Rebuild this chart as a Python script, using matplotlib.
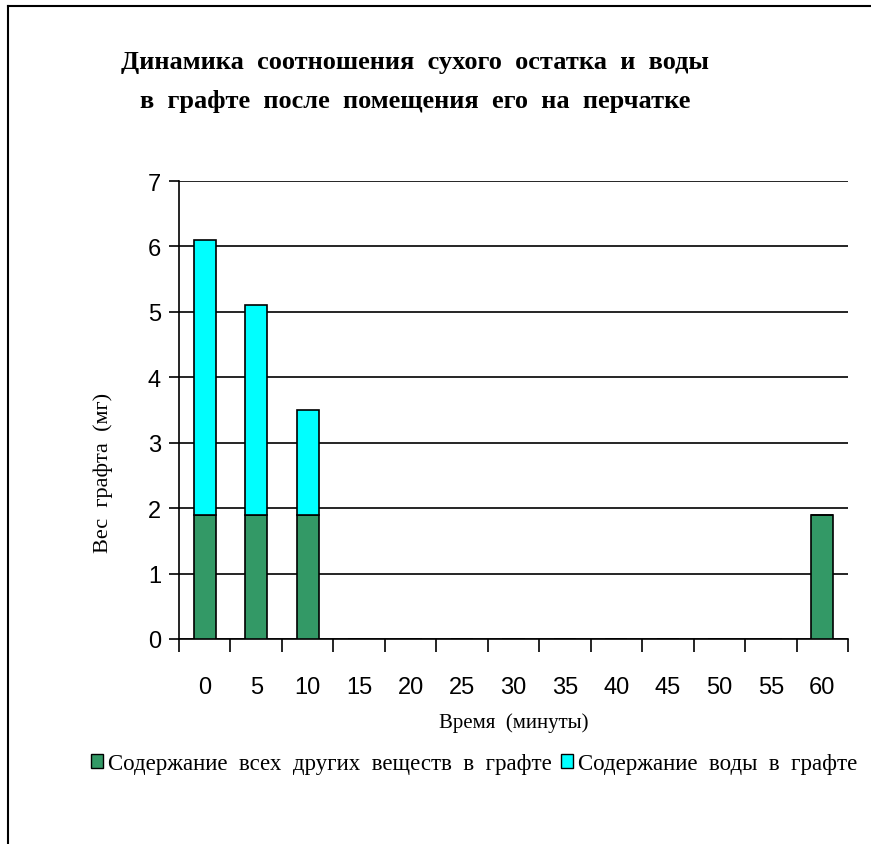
import numpy as np
import matplotlib.pyplot as plt
from matplotlib.lines import Line2D
from matplotlib.patches import Patch

# данные
minutes = ["0", "5", "10", "15", "20", "25", "30", "35", "40", "45", "50", "55", "60"]
dry = [1.9, 1.9, 1.9, 0, 0, 0, 0, 0, 0, 0, 0, 0, 1.9]
water = [4.2, 3.2, 1.6, 0, 0, 0, 0, 0, 0, 0, 0, 0, 0]
y_ticks = [0, 1, 2, 3, 4, 5, 6, 7]

title = "Динамика  соотношения  сухого  остатка  и  воды\nв  графте  после  помещения  его  на  перчатке"
label_dry = "Содержание  всех  других  веществ  в  графте"
label_water = "Содержание  воды  в  графте"

green = "#339966"
cyan = "#00ffff"
serif = "Liberation Serif"
sans = "Liberation Sans"

fig = plt.figure(figsize=(8.71, 8.45), dpi=100)
ax = fig.add_axes([179 / 871, 1 - 640 / 845, (848 - 179) / 871, (640 - 182) / 845])

x = np.arange(len(minutes))
w = 0.43
ax.bar(x, dry, width=w, color=green, edgecolor="black", linewidth=1.2, zorder=3)
ax.bar(x, water, bottom=dry, width=w, color=cyan, edgecolor="black", linewidth=1.2, zorder=3)

ax.set_xlim(-0.5, len(minutes) - 0.5)
ax.set_ylim(0, 7)
ax.set_yticks(y_ticks)
ax.set_yticklabels([str(v) for v in y_ticks], fontsize=17, family=sans)
ax.tick_params(axis="y", direction="out", length=7, width=1.2, pad=6)

ax.set_xticks(x)
ax.set_xticklabels(minutes, fontsize=17, family=sans)
ax.tick_params(axis="x", which="major", length=0, pad=27)
ax.set_xticks(np.arange(-0.5, len(minutes)), minor=True)
ax.tick_params(axis="x", which="minor", direction="out", length=9, width=1.2)

ax.yaxis.grid(True, color="black", linewidth=1.2, zorder=0)
ax.set_axisbelow(True)
for s in ["top", "right"]:
    ax.spines[s].set_visible(False)
for s in ["left", "bottom"]:
    ax.spines[s].set_linewidth(1.2)

ax.set_xlabel("Время  (минуты)", fontsize=15, family=serif, labelpad=10)
ax.set_ylabel("Вес  графта  (мг)", fontsize=16, family=serif)
ax.yaxis.set_label_coords(-0.099, 0.365)

fig.text(415 / 871, 1 - 82 / 845, title, ha="center", va="center", fontsize=19,
         family=serif, fontweight="bold", linespacing=1.85)

handles = [Patch(facecolor=green, edgecolor="black", label=label_dry),
           Patch(facecolor=cyan, edgecolor="black", label=label_water)]
fig.legend(handles=handles, loc="center", bbox_to_anchor=(474 / 871, 1 - 765 / 845),
           ncol=2, frameon=False, prop={"family": serif, "size": 16.5},
           handlelength=0.55, handleheight=0.55, handletextpad=0.2, columnspacing=0.4)

# рамка
fig.add_artist(Line2D([8 / 871, 8 / 871], [0, 1 - 7 / 845], color="black", lw=1.5))
fig.add_artist(Line2D([8 / 871, 1], [1 - 7 / 845, 1 - 7 / 845], color="black", lw=1.5))

fig.savefig("out.png", dpi=100)
